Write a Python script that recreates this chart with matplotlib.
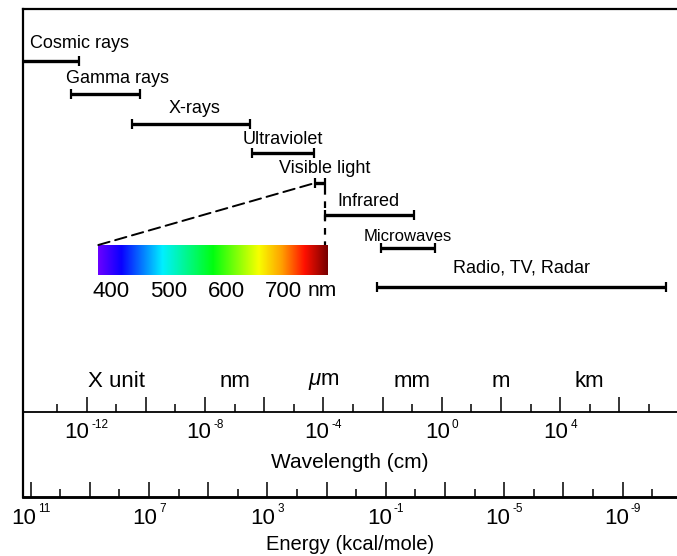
import numpy as np
import matplotlib
matplotlib.use("Agg")
import matplotlib.pyplot as plt
import matplotlib.transforms as mtransforms
from matplotlib.colors import LinearSegmentedColormap
from matplotlib.patches import ConnectionPatch
from matplotlib.ticker import NullFormatter

plt.rcParams['font.family'] = ['Liberation Sans', 'DejaVu Sans']
plt.rcParams['mathtext.fontset'] = 'custom'
plt.rcParams['mathtext.rm'] = 'Liberation Sans'
plt.rcParams['mathtext.it'] = 'Liberation Sans:italic'
plt.rcParams['mathtext.bf'] = 'Liberation Sans:bold'

# ---------------- data ----------------
band_names = ['Cosmic rays', 'Gamma rays', 'X-rays', 'Ultraviolet',
              'Visible light', 'Infrared', 'Microwaves', 'Radio, TV, Radar']
band_min_cm = [1e-15, 3.0e-13, 3.5e-11, 3.8e-7, 5.2e-5, 1.1e-4, 9.0e-3, 6.5e-3]
band_max_cm = [5.5e-13, 6.3e-11, 3.3e-7, 4.8e-5, 1.1e-4, 0.12, 0.6, 3.7e7]

unit_names = ['X unit', 'nm', r'$\mu$m', 'mm', 'm', 'km']
unit_cm = [1e-11, 1e-7, 1e-4, 1e-1, 1e2, 1e5]

wl_major_exp = list(range(-12, 7, 2))
wl_minor_exp = list(range(-13, 8, 2))
wl_label_exp = [-12, -8, -4, 0, 4]

en_major_exp = list(range(11, -10, -2))
en_minor_exp = list(range(10, -11, -2))
en_label_exp = [11, 7, 3, -1, -5, -9]
energy_const = 10 ** -2.89   # E = const / wavelength, as scaled in the chart

spectrum_ticks_nm = [400, 500, 600, 700]
spectrum_range_nm = [378, 778]
spectrum_stops = [0.0, 0.10, 0.28, 0.50, 0.70, 0.80, 0.90, 1.0]
spectrum_colors = ['#6a00ff', '#0a00ff', '#00f0ff', '#00ff10',
                   '#f8ff00', '#ffa000', '#ff1000', '#780000']

# ---------------- layout (pixels) ----------------
W, H = 677, 556
ax_left_px, ax_top_px, ax_bottom_px = 22.7, 9.3, 496.5
wl_line_px = 411.5
row_y = [60.7, 94.3, 124, 153, 183, 215, 247.7, 286.7]
text_y = [43, 78, 108, 139, 168, 201.7, 236, 268]
text_dx_px = [0, 12, 3, 0, 5, -1, 0, 0]
text_size = [13, 13, 13, 13, 13, 13, 12, 13]
unit_y = 381.7
spec_box_px = [98.3, 245, 328.3, 275]   # x0, top, x1, bottom
wl_title_y, en_title_y = 462, 544

fig = plt.figure(figsize=(W / 100, H / 100), dpi=100)
fig.patch.set_facecolor('white')

L = ax_left_px / W
B = 1 - ax_bottom_px / H
T = 1 - ax_top_px / H
ax = fig.add_axes([L, B, 1 - L, T - B])
ax.set_xscale('log')
ax.set_xlim(10 ** -14.16, 10 ** 7.95)
ax.set_ylim(ax_bottom_px, ax_top_px)
ax.spines['right'].set_visible(False)
ax.spines['left'].set_linewidth(1.6)
ax.spines['top'].set_linewidth(1.6)
ax.spines['bottom'].set_linewidth(1.8)
ax.set_yticks([])
ax.tick_params(axis='x', which='both', bottom=False, labelbottom=False)
ax.set_facecolor('white')
blend = mtransforms.blended_transform_factory(ax.transAxes, ax.transData)

# bands
for i, (nm, lo, hi) in enumerate(zip(band_names, band_min_cm, band_max_cm)):
    y = row_y[i]
    ax.plot([lo, hi], [y, y], color='black', lw=2.4, solid_capstyle='butt')
    ax.plot([lo, hi], [y, y], ls='none', marker='|', ms=6.5, mew=1.6,
            color='black')
    if i == 0:
        ax.annotate(nm, xy=(0, text_y[i]), xycoords=blend,
                    xytext=(7.3, 0), textcoords='offset pixels',
                    ha='left', va='center', fontsize=text_size[i])
    else:
        xc = np.sqrt(lo * hi)
        ax.annotate(nm, xy=(xc, text_y[i]), xycoords='data',
                    xytext=(text_dx_px[i], 0), textcoords='offset pixels',
                    ha='center', va='center', fontsize=text_size[i])

# unit labels
for nm, v in zip(unit_names, unit_cm):
    ax.text(v, unit_y, nm, ha='center', va='center', fontsize=16)

# wavelength axis
wl_frac = (ax_bottom_px - wl_line_px) / (ax_bottom_px - ax_top_px)
ident = (lambda x: x, lambda x: x)
sw = ax.secondary_xaxis(wl_frac, functions=ident)
sw.set_xticks([10.0 ** e for e in wl_major_exp], labels=['' for e in wl_major_exp])
sw.set_xticks([10.0 ** e for e in wl_minor_exp], minor=True)
sw.xaxis.set_minor_formatter(NullFormatter())
sw.tick_params(which='major', direction='in', length=11, width=1.1)
sw.tick_params(which='minor', direction='in', length=5.5, width=1.1)
sw.spines['bottom'].set_linewidth(1.3)


def to_energy(x):
    x = np.asarray(x, dtype=float)
    with np.errstate(divide='ignore', invalid='ignore'):
        return energy_const / x


se = ax.secondary_xaxis('bottom', functions=(to_energy, to_energy))
se.set_xticks([10.0 ** e for e in en_major_exp], labels=['' for e in en_major_exp])
se.set_xticks([10.0 ** e for e in en_minor_exp], minor=True)
se.xaxis.set_minor_formatter(NullFormatter())
se.tick_params(which='major', direction='in', length=10.5, width=1.1)
se.tick_params(which='minor', direction='in', length=5.8, width=1.1)
se.spines['bottom'].set_linewidth(1.8)

# power-of-ten labels: "10" plus a small raised exponent
renderer = fig.canvas.get_renderer()


def sci_label(x_cm, y_px, exp, pad_px, raise_px, gap_px=2.0):
    t1 = ax.annotate('10', xy=(x_cm, y_px), xycoords='data', xytext=(0, 0),
                     textcoords='offset pixels', ha='left', va='top',
                     fontsize=16, annotation_clip=False)
    t2 = ax.annotate(str(exp), xy=(x_cm, y_px), xycoords='data', xytext=(0, 0),
                     textcoords='offset pixels', ha='left', va='top',
                     fontsize=8.5, annotation_clip=False)
    w1 = t1.get_window_extent(renderer).width
    w2 = t2.get_window_extent(renderer).width
    left = -(w1 + gap_px + w2) / 2
    t1.xyann = (left, -pad_px)
    t2.xyann = (left + w1 + gap_px, -pad_px + raise_px)


for e in wl_label_exp:
    sci_label(10.0 ** e, wl_line_px, e, pad_px=10.0, raise_px=3)
for e in en_label_exp:
    sci_label(float(to_energy(10.0 ** e)), ax_bottom_px, e, pad_px=11.0, raise_px=4)

ax.text(0.5, wl_title_y, 'Wavelength (cm)', transform=blend,
        ha='center', va='center', fontsize=15)
ax.text(0.5, en_title_y, 'Energy (kcal/mole)', transform=blend,
        ha='center', va='center', fontsize=14.5)

# visible spectrum inset
sx0, stop, sx1, sbot = spec_box_px
spec = fig.add_axes([sx0 / W, 1 - sbot / H, (sx1 - sx0) / W, (sbot - stop) / H])
cmap = LinearSegmentedColormap.from_list('spec', list(zip(spectrum_stops, spectrum_colors)))
grad = np.linspace(0, 1, 512)[None, :]
spec.imshow(grad, aspect='auto', cmap=cmap,
            extent=[spectrum_range_nm[0], spectrum_range_nm[1], 0, 1])
spec.set_xlim(*spectrum_range_nm)
spec.set_yticks([])
spec.set_xticks(spectrum_ticks_nm, labels=[str(v) for v in spectrum_ticks_nm])
spec.tick_params(axis='x', length=0, labelsize=16, pad=4)
for s in spec.spines.values():
    s.set_visible(False)
spec.annotate('nm', xy=(spectrum_ticks_nm[-1], 0), xycoords=('data', 'axes fraction'),
              xytext=(24, -5.5), textcoords='offset pixels', ha='left', va='top',
              fontsize=15)

# dashed connectors
vis = band_names.index('Visible light')
con = ConnectionPatch(xyA=(0, 1), coordsA=spec.transAxes,
                      xyB=(band_min_cm[vis], row_y[vis]), coordsB=ax.transData,
                      color='black', lw=1.4, ls=(0, (6, 3)))
fig.add_artist(con)
ax.plot([band_max_cm[vis], band_max_cm[vis]], [row_y[vis] + 5, stop],
        color='black', lw=1.6, ls=(0, (3, 3)))

fig.savefig('out.png', dpi=100)
